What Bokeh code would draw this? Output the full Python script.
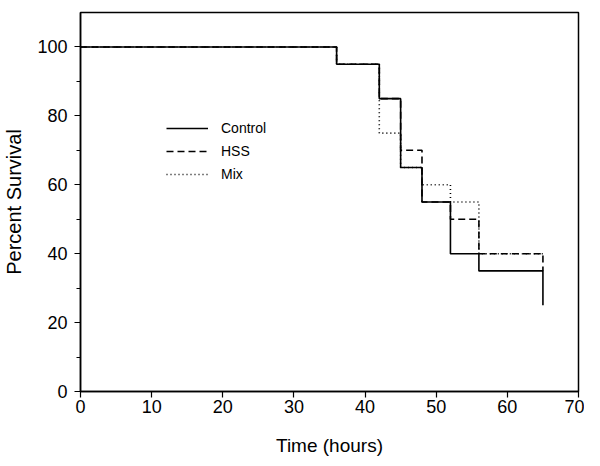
from bokeh.plotting import figure
from bokeh.models import FixedTicker, Range1d, Legend, LegendItem
from bokeh.embed import file_html
from bokeh.resources import INLINE

# Data (time in hours, percent survival)
control_t = [0, 36, 42, 45, 48, 52, 56, 65]
control_s = [100, 95, 85, 65, 55, 40, 35, 25]
hss_t = [0, 36, 42, 45, 48, 52, 56, 65]
hss_s = [100, 95, 85, 70, 55, 50, 40, 35]
mix_t = [0, 36, 42, 45, 48, 52, 56, 65]
mix_s = [100, 95, 75, 65, 60, 55, 40, 40]

x_ticks = [0, 10, 20, 30, 40, 50, 60, 70]
y_ticks = [0, 20, 40, 60, 80, 100]
y_minor = [10, 30, 50, 70, 90]

FONT = "Liberation Sans"

p = figure(width=584, height=458, output_backend="svg", toolbar_location=None,
           x_range=Range1d(0, 70), y_range=Range1d(0, 110),
           min_border_left=79, min_border_right=6, min_border_top=12, min_border_bottom=65)
p.background_fill_color = "white"
p.border_fill_color = "white"
p.outline_line_color = "black"
p.outline_line_width = 1.5
p.grid.visible = False

r_mix = p.step(mix_t, mix_s, mode="after", line_color="black", line_width=1.6, line_dash="1 3")
r_hss = p.step(hss_t, hss_s, mode="after", line_color="black", line_width=1.6, line_dash="7 4")
r_ctl = p.step(control_t, control_s, mode="after", line_color="black", line_width=1.6)

for ax in (p.xaxis[0], p.yaxis[0]):
    ax.axis_line_color = "black"
    ax.axis_line_width = 1.5
    ax.major_tick_line_color = "black"
    ax.major_tick_line_width = 1.2
    ax.major_tick_out = 6
    ax.major_tick_in = 0
    ax.minor_tick_line_color = "black"
    ax.minor_tick_out = 4
    ax.minor_tick_in = 0
    ax.major_label_text_font = FONT
    ax.major_label_text_font_size = "18px"
    ax.major_label_text_color = "black"
    ax.axis_label_text_font = FONT
    ax.axis_label_text_font_style = "normal"
    ax.axis_label_text_color = "black"

p.xaxis.axis_label_text_font_size = "19px"
p.yaxis.axis_label_text_font_size = "20px"
p.xaxis.ticker = FixedTicker(ticks=x_ticks)
p.yaxis.ticker = FixedTicker(ticks=y_ticks, minor_ticks=y_minor)
p.xaxis.axis_label = "Time (hours)"
p.yaxis.axis_label = "Percent Survival"
p.xaxis.major_label_standoff = 2
p.xaxis.axis_label_standoff = 19
p.yaxis.major_label_standoff = 7
p.yaxis.axis_label_standoff = 9

legend = Legend(items=[
    LegendItem(label="Control", renderers=[r_ctl]),
    LegendItem(label="HSS", renderers=[r_hss]),
    LegendItem(label="Mix", renderers=[r_mix]),
], location=(86, 207))
legend.border_line_alpha = 0
legend.background_fill_alpha = 0
legend.padding = 0
legend.margin = 0
legend.spacing = 3
legend.glyph_width = 42
legend.glyph_height = 20
legend.label_height = 20
legend.label_standoff = 13
legend.label_text_font = FONT
legend.label_text_font_size = "14px"
legend.label_text_color = "black"
p.add_layout(legend)

open("out.html", "w").write(file_html(p, INLINE))
